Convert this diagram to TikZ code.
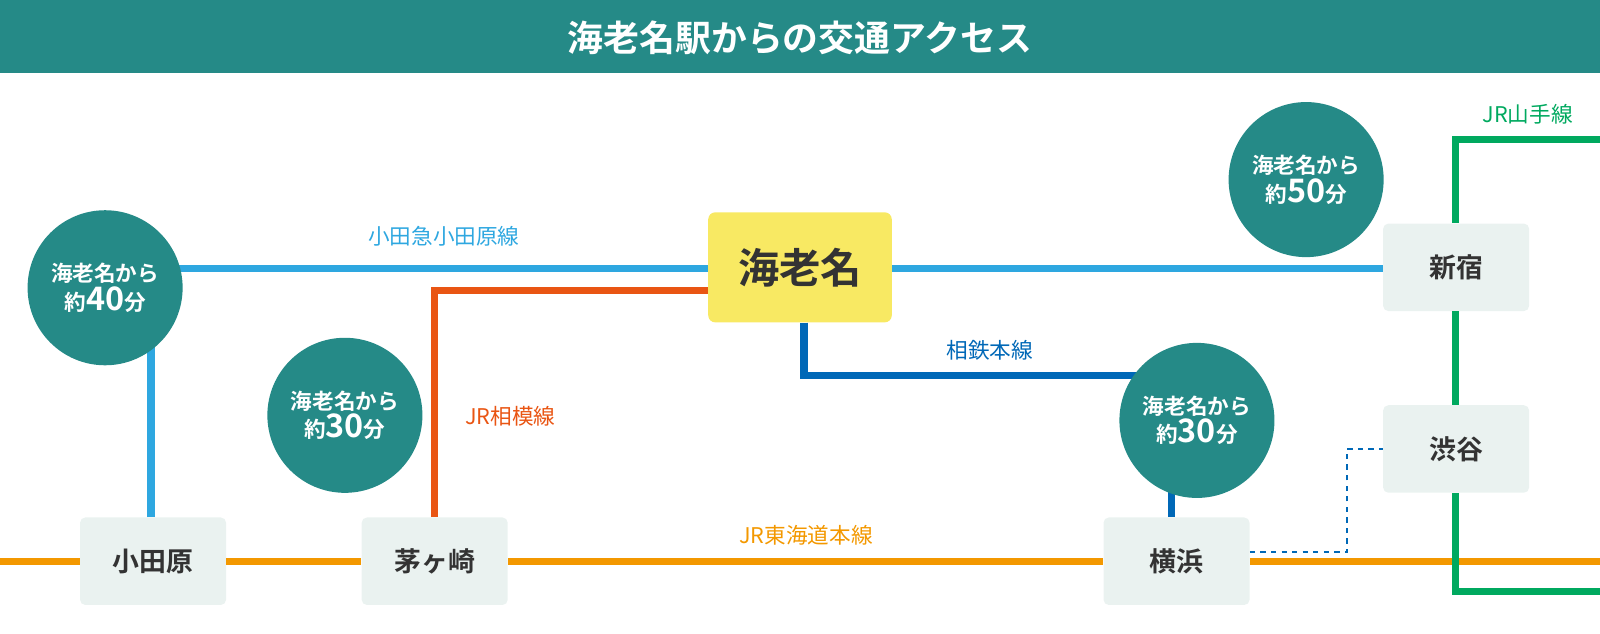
\documentclass[tikz,border=0pt]{standalone}
\usepackage{fontspec}
\setmainfont{Noto Sans CJK JP}
\newfontfamily\jpbold{Noto Sans CJK JP Bold}
\definecolor{teal}{HTML}{258A87}
\definecolor{ebinay}{HTML}{F8E963}
\definecolor{stgray}{HTML}{EAF2F0}
\definecolor{odakyu}{HTML}{2EA7E0}
\definecolor{sagami}{HTML}{E95513}
\definecolor{sotetsu}{HTML}{0068B7}
\definecolor{tokaido}{HTML}{F39800}
\definecolor{yamanote}{HTML}{00A95F}
\begin{document}
\begin{tikzpicture}[x=0.0204cm,y=-0.0204cm,
		station/.style={rectangle,rounded corners=3pt,fill=stgray,minimum width=2.92cm,minimum height=1.75cm,font=\jpbold\fontsize{15.3}{18}\selectfont,text=black!80},
		timec/.style={circle,fill=teal,minimum size=3.1cm,text=white,align=center,font=\jpbold\fontsize{12.3}{16.3}\selectfont},
		rail/.style={line width=4.1pt},
		linelabel/.style={font=\fontsize{12.3}{14}\selectfont}
		]
	\fill[teal] (0,0) rectangle (1568,72);
	\node[text=white,font=\jpbold\fontsize{20.4}{24}\selectfont] (title) at (784,37) {海老名駅からの交通アクセス};
	% stations
	\node[rectangle,rounded corners=4pt,fill=ebinay,minimum width=3.67cm,minimum height=2.2cm,font=\jpbold\fontsize{23.5}{26}\selectfont,text=black!80] (ebina) at (784,262) {海老名};
	\node[station] (odawara) at (150,550) {小田原};
	\node[station] (chigasaki) at (426,550) {茅ヶ崎};
	\node[station] (yokohama) at (1153,550) {横浜};
	\node[station] (shinjuku) at (1427,262) {新宿};
	\node[station] (shibuya) at (1427,440) {渋谷};
	\coordinate (tl) at (0,550);
	\coordinate (tr) at (1568,550);
	\coordinate (yt) at (1568,137);
	\coordinate (yb) at (1568,580);
	% lines
	\draw[rail,tokaido] (tl) -- (odawara) (odawara) -- (chigasaki) (chigasaki) -- (yokohama) (yokohama) -- (tr);
	\draw[rail,odakyu] (odawara.north -| 148,0) -- (148,263) -- (ebina.west |- 0,263);
	\draw[rail,odakyu] (ebina.east |- 0,263) -- (shinjuku.west |- 0,263);
	\draw[rail,sagami] (chigasaki.north) -- (426,285) -- (ebina.west |- 0,285);
	\draw[rail,sotetsu] (ebina.south -| 788,0) -- (788,368) -- (1148,368) -- (yokohama.north -| 1148,0);
	\draw[rail,yamanote] (yt) -- (1426,137) -- (shinjuku.north -| 1426,0);
	\draw[rail,yamanote] (shinjuku.south -| 1426,0) -- (shibuya.north -| 1426,0);
	\draw[rail,yamanote] (shibuya.south -| 1426,0) -- (1426,580) -- (yb);
	\draw[sotetsu,thick,dashed] (yokohama.east |- 0,541) -- (1320,541) -- (1320,440) -- (shibuya.west);
	% travel times
	\node[timec] (t40) at (103,282) {海老名から\\約{\fontsize{18.4}{18}\selectfont 40}分};
	\node[timec] (t30a) at (338,407) {海老名から\\約{\fontsize{18.4}{18}\selectfont 30}分};
	\node[timec] (t30b) at (1173,412) {海老名から\\約{\fontsize{18.4}{18}\selectfont 30}分};
	\node[timec] (t50) at (1280,176) {海老名から\\約{\fontsize{18.4}{18}\selectfont 50}分};
	% labels
	\node[linelabel,text=odakyu] (lodakyu) at (435,232) {小田急小田原線};
	\node[linelabel,text=sotetsu] (lsotetsu) at (970,343) {相鉄本線};
	\node[linelabel,text=sagami] (lsagami) at (500,408) {JR相模線};
	\node[linelabel,text=tokaido] (ltokaido) at (790,525) {JR東海道本線};
	\node[linelabel,text=yamanote] (lyamanote) at (1497,112) {JR山手線};
	\pgfresetboundingbox
	\useasboundingbox (0,0) rectangle (1568,621.3);
\end{tikzpicture}
\end{document}
